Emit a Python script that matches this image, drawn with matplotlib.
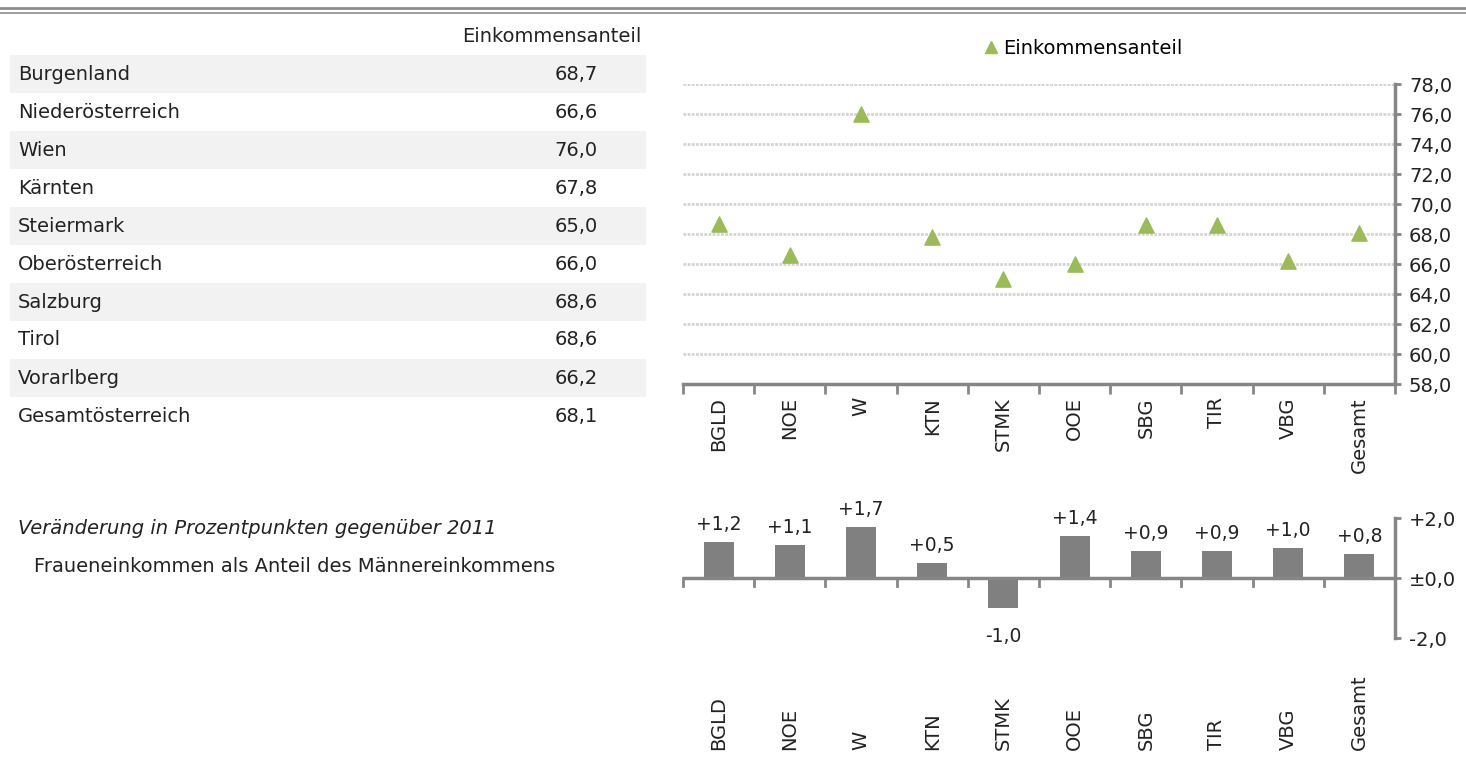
import matplotlib
matplotlib.use("Agg")
import matplotlib.pyplot as plt
import matplotlib.transforms as mtransforms
from matplotlib.lines import Line2D
from matplotlib.patches import Rectangle

plt.rcParams["font.family"] = ["DejaVu Sans"]

regions = ["Burgenland", "Niederösterreich", "Wien", "Kärnten", "Steiermark",
           "Oberösterreich", "Salzburg", "Tirol", "Vorarlberg", "Gesamtösterreich"]
codes = ["BGLD", "NOE", "W", "KTN", "STMK", "OOE", "SBG", "TIR", "VBG", "Gesamt"]
anteil = [68.7, 66.6, 76.0, 67.8, 65.0, 66.0, 68.6, 68.6, 66.2, 68.1]
change = [1.2, 1.1, 1.7, 0.5, -1.0, 1.4, 0.9, 0.9, 1.0, 0.8]
top_ticks = [58, 60, 62, 64, 66, 68, 70, 72, 74, 76, 78]
bot_ticks = [-2, 0, 2]

W, H = 1466, 759
FS = 14
fig = plt.figure(figsize=(W / 100, H / 100), dpi=100)
TXT = "#222222"
AX = "#868686"
GREEN = "#9bbb59"
BAR = "#808080"


def px(x, y):
    return x / W, 1 - y / H


def add_ax(x0, y0, x1, y1):
    return fig.add_axes([x0 / W, 1 - y1 / H, (x1 - x0) / W, (y1 - y0) / H])


# top double rule
for y, lw in [(8, 2.0), (13, 1.2)]:
    fig.add_artist(Line2D([0, 1], [1 - y / H] * 2, color="#8c8c8c", lw=lw))

# table
fig.text(*px(641, 37), "Einkommensanteil", ha="right", va="center", fontsize=FS, color=TXT)
for i, (name, val) in enumerate(zip(regions, anteil)):
    yc = 74 + 38 * i
    if i % 2 == 0 and i < 9:
        x0, y0 = px(10, yc + 19)
        fig.add_artist(Rectangle((x0, y0), (646 - 10) / W, 38 / H,
                                 transform=fig.transFigure, color="#f2f2f2", lw=0, zorder=0))
    fig.text(*px(18, yc), name, ha="left", va="center", fontsize=FS, color=TXT)
    fig.text(*px(598, yc), f"{val:.1f}".replace(".", ","), ha="right", va="center",
             fontsize=FS, color=TXT)

fig.text(*px(18, 528), "Veränderung in Prozentpunkten gegenüber 2011", ha="left",
         va="center", fontsize=FS, style="italic", color=TXT)
fig.text(*px(34, 567), "Fraueneinkommen als Anteil des Männereinkommens", ha="left",
         va="center", fontsize=FS, color=TXT)

x = list(range(len(codes)))

# top chart
ax = add_ax(683, 84, 1395, 384)
ax.scatter(x, anteil, marker="^", s=120, color=GREEN, zorder=3, clip_on=False)
ax.set_xlim(-0.5, len(codes) - 0.5)
ax.set_ylim(58, 78)
for t in top_ticks[1:]:
    ax.axhline(t, color="#d4d4d4", lw=2, ls=(0, (1, 0.5)), zorder=1)
ax.yaxis.tick_right()
ax.set_yticks(top_ticks)
ax.set_yticklabels([f"{t:.1f}".replace(".", ",") for t in top_ticks], fontsize=FS, color=TXT)
ax.set_xticks([i - 0.5 for i in range(len(codes) + 1)])
ax.set_xticklabels([])
ax.tick_params(axis="x", length=7, width=2, color=AX, direction="out")
ax.tick_params(axis="y", length=4, width=2, color=AX, pad=6)
for s in ["top", "left"]:
    ax.spines[s].set_visible(False)
for s in ["bottom", "right"]:
    ax.spines[s].set_color(AX)
    ax.spines[s].set_linewidth(2.5)
off = mtransforms.ScaledTranslation(0, -13 / 100, fig.dpi_scale_trans)
for i, c in enumerate(codes):
    ax.text(i, 58, c, rotation=90, ha="center", va="top", fontsize=FS, color=TXT,
            transform=ax.transData + off)

ax.legend(handles=[Line2D([], [], marker="^", ls="", color=GREEN, markersize=8)],
          labels=["Einkommensanteil"], loc="center", bbox_to_anchor=(0.56, 1.12),
          frameon=False, fontsize=FS, handletextpad=0.1, handlelength=1)

# bottom chart
bx = add_ax(683, 518, 1395, 638)
bx.bar(x, change, width=0.42, color=BAR, zorder=2)
bx.set_xlim(-0.5, len(codes) - 0.5)
bx.set_ylim(-2, 2)
bx.yaxis.tick_right()
bx.set_yticks(bot_ticks)
bx.set_yticklabels(["-2,0", "±0,0", "+2,0"], fontsize=FS, color=TXT)
bx.set_xticks([])
bx.tick_params(axis="y", length=4, width=2, color=AX, pad=6)
for s in ["top", "left", "bottom"]:
    bx.spines[s].set_visible(False)
bx.spines["right"].set_color(AX)
bx.spines["right"].set_linewidth(2.5)
bx.axhline(0, color=AX, lw=2.5, zorder=3)
for i in range(len(codes) + 1):
    bx.plot([i - 0.5, i - 0.5], [0, -0.25], color=AX, lw=2, zorder=3, clip_on=False)
for i, v in enumerate(change):
    lab = (f"{v:+.1f}").replace(".", ",")
    if v >= 0:
        bx.annotate(lab, (i, v), xytext=(0, 6), textcoords="offset points",
                    ha="center", va="bottom", fontsize=13.5, color=TXT)
    else:
        bx.annotate(lab, (i, v), xytext=(0, -14), textcoords="offset points",
                    ha="center", va="top", fontsize=13.5, color=TXT)
tb = mtransforms.blended_transform_factory(bx.transData, fig.transFigure)
for i, c in enumerate(codes):
    bx.text(i, 1 - 750 / H, c, rotation=90, ha="center", va="bottom", fontsize=FS,
            color=TXT, transform=tb)

fig.savefig("out.png", dpi=100)
